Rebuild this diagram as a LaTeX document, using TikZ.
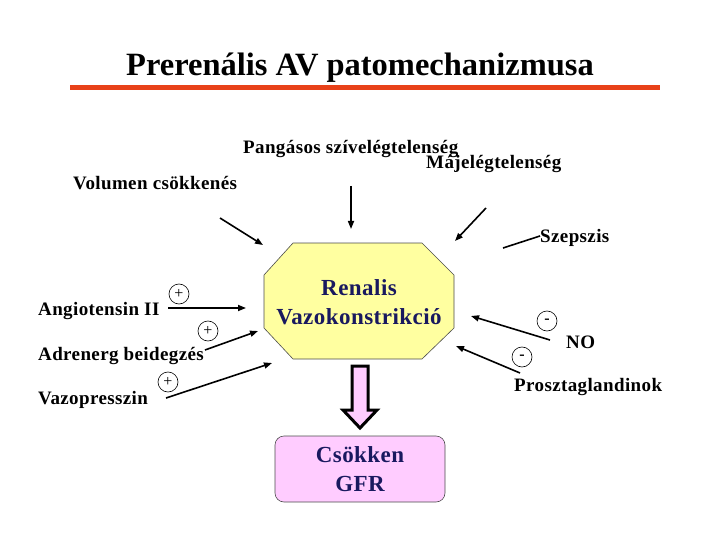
\documentclass[tikz,border=0pt]{standalone}
\usepackage{fontspec}
\setmainfont{Liberation Serif}
\newfontfamily\lblfont[LetterSpace=2]{Liberation Serif}
\usetikzlibrary{arrows.meta}
\definecolor{titlered}{RGB}{232,65,25}
\definecolor{octfill}{RGB}{255,255,160}
\definecolor{pinkfill}{RGB}{255,204,255}
\definecolor{navytext}{RGB}{25,25,95}
\tikzset{
  lbl/.style={font=\lblfont\bfseries\fontsize{19}{22}\selectfont, anchor=base west, inner sep=0pt},
  conn/.style={line width=1.6pt, -{Triangle[length=8pt,width=6pt]}},
  plainconn/.style={line width=1.6pt},
  sign/.style={circle, draw, line width=0.6pt, minimum size=20pt, inner sep=0pt, font=\fontsize{16}{16}\selectfont},
  bigtext/.style={font=\lblfont\bfseries\fontsize{23}{29}\selectfont, text=navytext, align=center}
}
\begin{document}
\begin{tikzpicture}[x=1pt,y=-1pt]
\useasboundingbox (0,0) rectangle (720,540);
% title
\node[font=\bfseries\fontsize{32.5}{36}\selectfont, anchor=base] (title) at (360,76) {Prerenális AV patomechanizmusa};
\draw[titlered, line width=5pt] (70,88) -- (660,88);
% top labels
\node[lbl] (pang) at (243,154) {Pangásos szívelégtelenség};
\node[lbl] (maj) at (426,169) {Májelégtelenség};
\node[lbl] (vol) at (73,190) {Volumen csökkenés};
\node[lbl] (szep) at (540,243) {Szepszis};
% left labels
\node[lbl] (ang) at (38,315) {Angiotensin II};
\node[lbl] (adr) at (38,360) {Adrenerg beidegzés};
\node[lbl] (vaz) at (38,404) {Vazopresszin};
% right labels
\node[lbl] (no) at (566,348) {NO};
\node[lbl] (pros) at (514,391) {Prosztaglandinok};
% octagon
\draw[draw=black!70, line width=0.6pt, fill=octfill] (293,243) -- (422,243) -- (454,275) -- (454,328)
   -- (422,359) -- (293,359) -- (264,328) -- (264,275) -- cycle;
\node[bigtext] (octtext) at (359,302) {Renalis\\Vazokonstrikció};
% result box
\node[draw=black!70, line width=0.6pt, fill=pinkfill, rounded corners=9pt, minimum width=170pt,
      minimum height=66pt, bigtext] (gfr) at (360,469) {Csökken\\GFR};
% big hollow arrow
\draw[line width=3pt, fill=pinkfill, line join=miter] (352,366) -- (368,366) -- (368,410) -- (377,410)
   -- (360,428) -- (343,410) -- (352,410) -- cycle;
% coordinates for arrows
\coordinate (volS) at (220,218); \coordinate (volE) at (263,245);
\coordinate (pangS) at (351,186); \coordinate (pangE) at (351,229);
\coordinate (majS) at (486,208); \coordinate (majE) at (455,241);
\coordinate (szepS) at (540,236); \coordinate (szepE) at (503,248);
\coordinate (angS) at (168,308); \coordinate (angE) at (246,308);
\coordinate (adrS) at (205,350); \coordinate (adrE) at (258,331);
\coordinate (vazS) at (166,398); \coordinate (vazE) at (272,363);
\coordinate (noS) at (550,340); \coordinate (noE) at (471,316);
\coordinate (prosS) at (520,373); \coordinate (prosE) at (456,346);
\draw[conn] (volS) -- (volE);
\draw[conn] (pangS) -- (pangE);
\draw[conn] (majS) -- (majE);
\draw[plainconn] (szepS) -- (szepE);
\draw[conn] (angS) -- (angE);
\draw[conn] (adrS) -- (adrE);
\draw[conn] (vazS) -- (vazE);
\draw[conn] (noS) -- (noE);
\draw[conn] (prosS) -- (prosE);
% signs
\node[sign] (s1) at (179,294) {+};
\node[sign] (s2) at (208,331) {+};
\node[sign] (s3) at (168,382) {+};
\node[sign] (s4) at (547,321) {\textbf{-}};
\node[sign] (s5) at (522,357) {\textbf{-}};
\end{tikzpicture}
\end{document}
